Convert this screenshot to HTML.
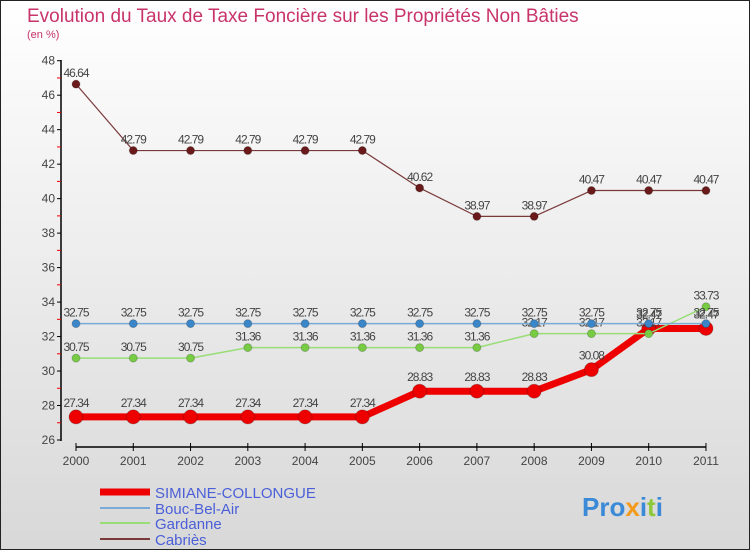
<!DOCTYPE html>
<html><head><meta charset="utf-8"><style>
body{margin:0;width:750px;height:550px;overflow:hidden;font-family:"Liberation Sans",sans-serif}
</style></head><body>
<svg id="chart" width="750" height="550" xmlns="http://www.w3.org/2000/svg" font-family="Liberation Sans, sans-serif">
<defs><linearGradient id="bg" x1="0" y1="0" x2="0" y2="1"><stop offset="0" stop-color="#ffffff"/><stop offset="1" stop-color="#d8d8d8"/></linearGradient></defs>
<rect x="0.5" y="0.5" width="749" height="549" fill="url(#bg)" stroke="#222" stroke-width="1"/>
<text x="27" y="22" font-size="19" fill="#c8336a">Evolution du Taux de Taxe Foncière sur les Propriétés Non Bâties</text>
<text x="27" y="38" font-size="11" fill="#c8336a">(en %)</text>
<g id="axes"></g><g id="series"></g>
<g>
<line x1="100" y1="492" x2="150" y2="492" stroke="#ee0000" stroke-width="7"/>
<text x="155" y="498" font-size="15" fill="#4a5fd8">SIMIANE-COLLONGUE</text>
<line x1="100" y1="508" x2="150" y2="508" stroke="#7aaad8" stroke-width="2"/>
<text x="155" y="514" font-size="15" fill="#4a5fd8">Bouc-Bel-Air</text>
<line x1="100" y1="523" x2="150" y2="523" stroke="#99dd77" stroke-width="2"/>
<text x="155" y="529" font-size="15" fill="#4a5fd8">Gardanne</text>
<line x1="100" y1="539" x2="150" y2="539" stroke="#7a3a3a" stroke-width="2"/>
<text x="155" y="545" font-size="15" fill="#4a5fd8">Cabriès</text>
</g>
<text x="582" y="516" font-size="26" font-weight="bold" fill="#3a8ad8">Pro<tspan fill="#f39a1a">x</tspan><tspan fill="#3a8ad8">i</tspan><tspan fill="#8cc83a">t</tspan><tspan fill="#3a8ad8">i</tspan></text>
</svg>
<script>
const years=["2000","2001","2002","2003","2004","2005","2006","2007","2008","2009","2010","2011"];
const simiane=[27.34,27.34,27.34,27.34,27.34,27.34,28.83,28.83,28.83,30.08,32.47,32.47];
const bouc=[32.75,32.75,32.75,32.75,32.75,32.75,32.75,32.75,32.75,32.75,32.75,32.75];
const gardanne=[30.75,30.75,30.75,31.36,31.36,31.36,31.36,31.36,32.17,32.17,32.17,33.73];
const cabries=[46.64,42.79,42.79,42.79,42.79,42.79,40.62,38.97,38.97,40.47,40.47,40.47];
const yTicks=[26,28,30,32,34,36,38,40,42,44,46,48];
const NS="http://www.w3.org/2000/svg";
const x=i=>76+i*57.27, y=v=>440-(v-26)*17.24;
function mk(tag,attrs,parent){const e=document.createElementNS(NS,tag);for(const k in attrs)e.setAttribute(k,attrs[k]);parent.appendChild(e);return e;}
const ax=document.getElementById('axes'), sg=document.getElementById('series');
let a=mk('line',{x1:61,y1:60,x2:61,y2:441,stroke:'#000','stroke-width':1.5},ax);


for(const t of yTicks){
 mk('line',{x1:57,y1:y(t),x2:61,y2:y(t),stroke:'#000'},ax);
 if(t<48){mk('line',{x1:57,y1:y(t+1),x2:61,y2:y(t+1),stroke:'#e00'},ax);}
 const tx=mk('text',{x:55,y:y(t)+4,'text-anchor':'end','font-size':12,fill:'#444'},ax);tx.textContent=t;
 
 
}
let xa=mk('line',{x1:x(0),y1:447,x2:x(11),y2:447,stroke:'#000','stroke-width':1.5},ax);


years.forEach((yr,i)=>{
 mk('line',{x1:x(i),y1:443,x2:x(i),y2:451,stroke:'#000'},ax);
 const tx=mk('text',{x:x(i),y:465,'text-anchor':'middle','font-size':12,fill:'#444'},ax);tx.textContent=yr;
 
 
});
function series(vals,name,color,w,r,dot){
 const g=mk('g',{},sg);
 
 
 mk('polyline',{points:vals.map((v,i)=>x(i)+','+y(v)).join(' '),fill:'none',stroke:color,'stroke-width':w,'stroke-linejoin':'round'},g);
 vals.forEach((v,i)=>{
  const c=mk('circle',{cx:x(i),cy:y(v),r:r,fill:dot,stroke:'rgba(0,0,0,0.2)'},g);
  
  
  const t=mk('text',{x:x(i),y:y(v)-7-(r>5?3:0),'text-anchor':'middle','font-size':12,fill:'#444','letter-spacing':'-1'},g);t.textContent=v.toFixed(2);
  
  
 });
}
series(simiane,'series-simiane','#ee0000',7,7,'#ee0000');
series(cabries,'series-cabries','#7a3a3a',1.2,4,'#6a1a1a');
series(gardanne,'series-gardanne','#99dd77',1.5,4,'#77cc44');
series(bouc,'series-bouc-bel-air','#7aaad8',1.5,4,'#3a86c8');
</script>
</body></html>
